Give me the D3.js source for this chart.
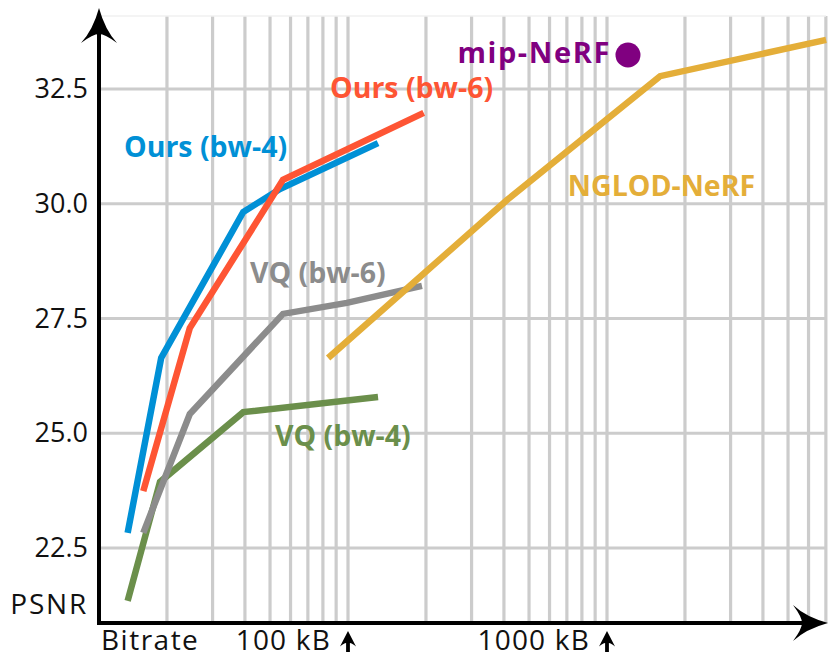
<!DOCTYPE html>
<html>
<head>
<meta charset="utf-8">
<script src="https://cdn.jsdelivr.net/npm/d3@7"></script>
<style>
  body { margin: 0; background: #fff; }
  text { font-family: "Open Sans", sans-serif; }
</style>
</head>
<body>
<svg id="chart" width="830" height="663"></svg>
<script>
// bitrate in kB, PSNR in dB
const oursBw4 = [[14.1, 22.83], [19.0, 26.64], [39.4, 29.82], [54.6, 30.32], [130.6, 31.32]];
const oursBw6 = [[16.2, 23.74], [24.5, 27.29], [56.1, 30.52], [196, 31.98]];
const vqBw6 = [[16.2, 22.83], [24.5, 25.42], [56.1, 27.6], [99, 27.84], [193, 28.21]];
const vqBw4 = [[14.1, 21.35], [18.8, 23.94], [39.4, 25.46], [130.6, 25.79]];
const nglodNerf = [[83.8, 26.64], [411, 30.08], [1603, 32.78], [7015, 33.57]];
const mipNerf = [1205, 33.24];

const yTicks = [22.5, 25, 27.5, 30, 32.5];
const xTickLabels = [[100, "100 kB"], [1000, "1000 kB"]];

// name, data, colour, label position [kB, PSNR]
const series = [
  { name: "VQ (bw-4)", data: vqBw4, color: "#6b8f4b", label: [52.2, 24.72] },
  { name: "VQ (bw-6)", data: vqBw6, color: "#8c8c8c", label: [41.8, 28.27] },
  { name: "NGLOD-NeRF", data: nglodNerf, color: "#e4ae39", label: [706, 30.17] },
  { name: "Ours (bw-4)", data: oursBw4, color: "#0090d6", label: [13.65, 31.02] },
  { name: "Ours (bw-6)", data: oursBw6, color: "#fe5534", label: [85.2, 32.30] }
];

const svg = d3.select("#chart");

const x = d3.scaleLog().domain([10, 1000]).range([89, 607]);
const y = d3.scaleLinear().domain([22.5, 32.5]).range([548, 89]);

const gridLeft = 99, gridRight = 826, gridTop = 16, gridBottom = 623;

// grid
const grid = svg.append("g");
const xGrid = d3.scaleLog().domain([x.invert(gridLeft), x.invert(gridRight + 1)]).ticks()
  .filter(d => x(d) > gridLeft + 2 && x(d) <= gridRight + 1);

grid.selectAll("line.vx").data(xGrid).join("line")
  .attr("class", "vx")
  .attr("x1", d => x(d)).attr("x2", d => x(d))
  .attr("y1", gridTop).attr("y2", gridBottom)
  .attr("stroke", "#cccccc").attr("stroke-width", 3.2);

grid.selectAll("line.hy").data(yTicks).join("line")
  .attr("class", "hy")
  .attr("x1", gridLeft).attr("x2", gridRight)
  .attr("y1", d => y(d)).attr("y2", d => y(d))
  .attr("stroke", "#cccccc").attr("stroke-width", 3.2);

grid.append("line")
  .attr("x1", gridLeft).attr("x2", gridRight)
  .attr("y1", gridTop).attr("y2", gridTop)
  .attr("stroke", "#f1f1f1").attr("stroke-width", 1.5);

// y tick labels
svg.selectAll("text.ytick").data(yTicks).join("text")
  .attr("class", "ytick")
  .attr("x", 88)
  .attr("y", d => y(d) + 9)
  .attr("text-anchor", "end")
  .style("font-size", "27px")
  .attr("fill", "#111")
  .text(d => d.toFixed(1));

svg.append("text")
  .attr("x", 88).attr("y", 614)
  .attr("text-anchor", "end")
  .style("font-size", "28px")
  .style("letter-spacing", "1.8px")
  .attr("fill", "#111")
  .text("PSNR");

svg.append("text")
  .attr("x", 101).attr("y", 650)
  .style("font-size", "28px")
  .style("letter-spacing", "1.5px")
  .attr("fill", "#111")
  .text("Bitrate");

// x labels with small up arrows
const xl = svg.selectAll("g.xlab").data(xTickLabels).join("g")
  .attr("class", "xlab")
  .attr("transform", d => `translate(${x(d[0])},0)`);

xl.append("text")
  .attr("x", -17).attr("y", 650)
  .attr("text-anchor", "end")
  .style("font-size", "28px")
  .style("letter-spacing", "1.2px")
  .attr("fill", "#111")
  .text(d => d[1]);

xl.append("path")
  .attr("d", "M0,631 L8,646.5 Q4,643 1.9,643 L1.9,652 L-1.9,652 L-1.9,643 Q-4,643 -8,646.5 Z")
  .attr("fill", "#000");

// lines
const line = d3.line().x(d => x(d[0])).y(d => y(d[1]));

svg.selectAll("path.series").data(series).join("path")
  .attr("class", "series")
  .attr("d", d => line(d.data))
  .attr("fill", "none")
  .attr("stroke", d => d.color)
  .attr("stroke-width", 6.5)
  .attr("stroke-linejoin", "miter");

svg.selectAll("text.label").data(series).join("text")
  .attr("class", "label")
  .attr("x", d => x(d.label[0]))
  .attr("y", d => y(d.label[1]))
  .style("font-size", "28.5px")
  .style("font-weight", "bold")
  .attr("fill", d => d.color)
  .text(d => d.name);

// mip-NeRF point
svg.append("circle")
  .attr("cx", x(mipNerf[0])).attr("cy", y(mipNerf[1]))
  .attr("r", 12.5)
  .attr("fill", "#800080");

svg.append("text")
  .attr("x", x(mipNerf[0]) - 17).attr("y", y(mipNerf[1]) + 8)
  .attr("text-anchor", "end")
  .style("font-size", "29px")
  .style("font-weight", "bold")
  .style("letter-spacing", "1.6px")
  .attr("fill", "#800080")
  .text("mip-NeRF");

// axes with arrow heads
svg.append("line")
  .attr("x1", gridLeft).attr("x2", gridLeft)
  .attr("y1", gridBottom + 2).attr("y2", 30)
  .attr("stroke", "#000").attr("stroke-width", 4);

svg.append("line")
  .attr("x1", gridLeft - 2).attr("x2", 810)
  .attr("y1", gridBottom).attr("y2", gridBottom)
  .attr("stroke", "#000").attr("stroke-width", 4);

svg.append("path")
  .attr("d", `M${gridLeft},8 Q${gridLeft + 6},30 ${gridLeft + 18},43 Q${gridLeft + 6},34 ${gridLeft},34 Q${gridLeft - 6},34 ${gridLeft - 18},43 Q${gridLeft - 6},30 ${gridLeft},8 Z`)
  .attr("fill", "#000");

svg.append("path")
  .attr("d", `M828,${gridBottom} Q806,${gridBottom - 6} 793,${gridBottom - 18} Q802,${gridBottom - 6} 802,${gridBottom} Q802,${gridBottom + 6} 793,${gridBottom + 18} Q806,${gridBottom + 6} 828,${gridBottom} Z`)
  .attr("fill", "#000");
</script>
</body>
</html>
